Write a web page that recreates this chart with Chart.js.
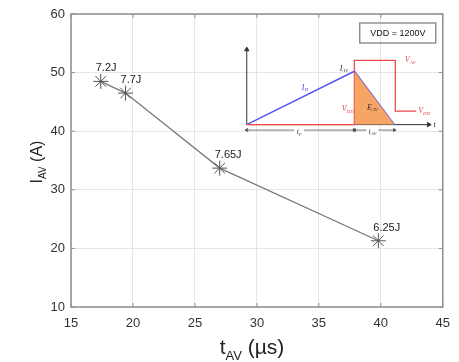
<!DOCTYPE html>
<html>
<head>
<meta charset="utf-8">
<script src="https://cdn.jsdelivr.net/npm/chart.js@4"></script>
<style>
  body { margin: 0; background: #fff; }
  #wrap { position: relative; width: 459px; height: 362px; }
  #inset { position: absolute; left: 237px; top: 40px; }
</style>
</head>
<body>
<div id="wrap">
  <canvas id="main" width="459" height="362"></canvas>
  <canvas id="inset" width="210" height="105"></canvas>
</div>
<script>
// measured points: avalanche time (us) vs avalanche current (A)
const tAv = [17.4, 19.4, 27.0, 39.8]
const iAv = [48.5, 46.5, 33.7, 21.3]
const energyLabels = ["7.2J", "7.7J", "7.65J", "6.25J"]
const xTicks = [15, 20, 25, 30, 35, 40, 45]
const yTicks = [10, 20, 30, 40, 50, 60]

// schematic in the inset (arbitrary units)
const idX = [0, 56.5, 77.5]
const idY = [0, 59, 0]
const eavX = [56.5, 77.5]
const eavY = [59, 0]
const vdsX = [0, 56.5, 56.5, 78, 78, 89]
const vdsY = [0, 0, 71, 71, 15, 15]
const axisTop = 83
const axisRight = 95.5
const dimY = -6

const FONT = "'Liberation Sans', Arial, sans-serif"
const SERIF = "'Liberation Serif', 'DejaVu Serif', serif"

function subText(ctx, x, y, main, sub, rest, size, align, font, style) {
    style = style || ""
    const f1 = `${style} ${size}px ${font}`
    const f2 = `${style} ${Math.round(size * 0.62)}px ${font}`
    ctx.font = f1
    const w1 = ctx.measureText(main).width
    const w3 = rest ? ctx.measureText(rest).width : 0
    ctx.font = f2
    const w2 = sub ? ctx.measureText(sub).width : 0
    const total = w1 + w2 + w3
    let sx = x
    if (align == "center") sx = x - total / 2
    if (align == "right") sx = x - total
    ctx.textAlign = "left"
    ctx.font = f1
    ctx.fillText(main, sx, y)
    if (sub) {
        ctx.font = f2
        ctx.fillText(sub, sx + w1, y + size * 0.28)
    }
    if (rest) {
        ctx.font = f1
        ctx.fillText(rest, sx + w1 + w2, y)
    }
}

const framePlugin = {
    id: "frame",
    afterDraw(chart) {
        const ctx = chart.ctx
        const a = chart.chartArea
        const xs = chart.scales.x, ys = chart.scales.y
        ctx.save()
        ctx.strokeStyle = "#8f8f8f"
        ctx.lineWidth = 1.5
        ctx.strokeRect(a.left, a.top, a.right - a.left, a.bottom - a.top)
        ctx.lineWidth = 1
        xTicks.forEach(v => {
            const px = xs.getPixelForValue(v)
            ctx.beginPath()
            ctx.moveTo(px, a.bottom); ctx.lineTo(px, a.bottom - 4)
            ctx.moveTo(px, a.top); ctx.lineTo(px, a.top + 4)
            ctx.stroke()
        })
        yTicks.forEach(v => {
            const py = ys.getPixelForValue(v)
            ctx.beginPath()
            ctx.moveTo(a.left, py); ctx.lineTo(a.left + 4, py)
            ctx.moveTo(a.right, py); ctx.lineTo(a.right - 4, py)
            ctx.stroke()
        })

        // energy labels
        ctx.fillStyle = "#222"
        ctx.font = `11px ${FONT}`
        ctx.textAlign = "left"
        ctx.textBaseline = "middle"
        energyLabels.forEach((lab, i) => {
            const px = xs.getPixelForValue(tAv[i])
            const py = ys.getPixelForValue(iAv[i])
            ctx.fillText(lab, px - 5, py - 13)
        })

        // VDD box
        ctx.strokeStyle = "#777"
        ctx.lineWidth = 1.2
        ctx.strokeRect(a.right - 83, a.top + 9, 76, 20)
        ctx.fillStyle = "#111"
        ctx.font = `9px ${FONT}`
        ctx.textAlign = "center"
        ctx.fillText("VDD = 1200V", a.right - 45, a.top + 19.5)

        // axis titles
        ctx.fillStyle = "#222"
        ctx.textBaseline = "alphabetic"
        subText(ctx, 252, 354, "t", "AV", " (µs)", 21, "center", FONT)
        ctx.translate(42, 162)
        ctx.rotate(-Math.PI / 2)
        subText(ctx, 0, 0, "I", "AV", " (A)", 16, "center", FONT)
        ctx.restore()
    }
}

new Chart(document.getElementById("main"), {
    type: "scatter",
    data: {
        datasets: [{
            data: tAv.map((t, i) => ({ x: t, y: iAv[i] })),
            showLine: true,
            borderColor: "#7a7a7a",
            borderWidth: 1.3,
            pointStyle: "star",
            pointRadius: 7.5,
            pointBorderColor: "#555",
            pointBorderWidth: 1,
            pointBackgroundColor: "#000"
        }]
    },
    options: {
        responsive: false,
        animation: false,
        layout: { padding: { left: 0, top: 14, right: 16, bottom: 0 } },
        plugins: { legend: { display: false }, tooltip: { enabled: false } },
        scales: {
            x: {
                type: "linear", min: 15, max: 45,
                afterBuildTicks: s => { s.ticks = xTicks.map(v => ({ value: v })) },
                afterFit: s => { s.height = 55 },
                grid: { color: "#e6e6e6", drawTicks: false },
                border: { display: false },
                ticks: { padding: 9, color: "#333", font: { size: 13, family: FONT } }
            },
            y: {
                type: "linear", min: 10, max: 60,
                afterBuildTicks: s => { s.ticks = yTicks.map(v => ({ value: v })) },
                afterFit: s => { s.width = 71 },
                grid: { color: "#e6e6e6", drawTicks: false },
                border: { display: false },
                ticks: { padding: 6, color: "#333", font: { size: 13, family: FONT } }
            }
        }
    },
    plugins: [framePlugin]
})

// inset schematic
const insetLabels = {
    id: "insetLabels",
    afterDraw(chart) {
        const ctx = chart.ctx
        const xs = chart.scales.x, ys = chart.scales.y
        const P = (x, y) => [xs.getPixelForValue(x), ys.getPixelForValue(y)]
        ctx.save()
        ctx.textBaseline = "middle"
        const put = (x, y, m, s, col, al) => {
            const [px, py] = P(x, y)
            ctx.fillStyle = col
            subText(ctx, px, py, m, s, "", 8, al || "center", SERIF, "italic")
        }
        put(51, 62, "I", "AV", "#333")
        put(30.5, 41, "I", "D", "#4a4ae0")
        put(83, 71, "V", "AV", "#e04848", "left")
        put(90, 15, "V", "DD", "#e04848", "left")
        put(53, 17, "V", "DD", "#e04848")
        put(66, 19, "E", "AV", "#333")
        put(98, 0, "t", "", "#333", "left")
        // gaps for dimension labels
        const gap = (x, w) => {
            const [px, py] = P(x, dimY)
            ctx.fillStyle = "#fff"
            ctx.fillRect(px - w / 2, py - 2, w, 4)
        }
        gap(27.5, 10)
        gap(66, 12)
        put(27.5, dimY - 2, "t", "p", "#444")
        put(66, dimY - 2, "t", "AV", "#444")
        ctx.restore()
    }
}

const pts = (xa, ya) => xa.map((x, i) => ({ x: x, y: ya[i] }))

new Chart(document.getElementById("inset"), {
    type: "scatter",
    data: {
        datasets: [
            {
                data: pts(eavX, eavY), showLine: true, fill: "origin",
                backgroundColor: "rgba(246,160,92,0.95)", borderWidth: 0, pointRadius: 0
            },
            {
                data: pts(vdsX, vdsY), showLine: true, borderColor: "#ee4c4c",
                borderWidth: 1.3, pointRadius: 0, fill: false
            },
            {
                data: pts(idX, idY), showLine: true, borderColor: "#5656ee",
                borderWidth: 1.5, pointRadius: 0, fill: false
            },
            {
                data: pts([0, 0], [0, axisTop]), showLine: true, borderColor: "#333",
                borderWidth: 1, pointStyle: "triangle", pointRadius: [0, 2.5],
                pointBackgroundColor: "#333", pointBorderColor: "#333", fill: false
            },
            {
                data: pts([0, axisRight], [0, 0]), showLine: true, borderColor: "#333",
                borderWidth: 1, pointStyle: "triangle", pointRadius: [0, 2.5], rotation: 90,
                pointBackgroundColor: "#333", pointBorderColor: "#333", fill: false
            },
            {
                data: pts([0, 56.5], [dimY, dimY]), showLine: true, borderColor: "#555",
                borderWidth: 0.8, pointStyle: "triangle", pointRadius: 1.8, rotation: [-90, 90],
                pointBackgroundColor: "#555", pointBorderColor: "#555", fill: false
            },
            {
                data: pts([56.5, 77.5], [dimY, dimY]), showLine: true, borderColor: "#555",
                borderWidth: 0.8, pointStyle: "triangle", pointRadius: 1.8, rotation: [-90, 90],
                pointBackgroundColor: "#555", pointBorderColor: "#555", fill: false
            }
        ]
    },
    options: {
        responsive: false,
        animation: false,
        clip: false,
        layout: { padding: 0 },
        plugins: { legend: { display: false }, tooltip: { enabled: false } },
        scales: {
            x: { type: "linear", min: -2.5, max: 102.5, display: false },
            y: { type: "linear", min: -17, max: 88, display: false }
        }
    },
    plugins: [insetLabels]
})
</script>
</body>
</html>
